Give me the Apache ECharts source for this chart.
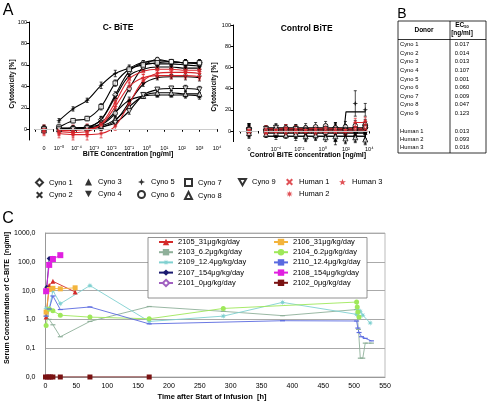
<!DOCTYPE html>
<html><head><meta charset="utf-8">
<script src="https://cdn.jsdelivr.net/npm/echarts@6/dist/echarts.min.js"></script>
<style>html,body{margin:0;padding:0;background:#fff}#c{width:487px;height:403px}</style>
</head><body><div id="c"></div>
<script>
// ---------------- DATA ----------------
// Panel A: concentrations (ng/ml)
const cbiteConc = [1e-5, 6.3e-5, 4e-4, 2.5e-3, 1.6e-2, 0.1, 0.63, 4, 25, 160, 1000];
const ctrlConc  = [1.4e-5, 1e-4, 7e-4, 5e-3, 3.5e-2, 0.25, 1.8, 12.5, 90, 630, 4500];
const donorNames = ['Cyno 1','Cyno 2','Cyno 3','Cyno 4','Cyno 5','Cyno 6','Cyno 7','Cyno 8','Cyno 9','Human 1','Human 2','Human 3'];
// cytotoxicity [%] at zero concentration (C-BiTE)
const cbiteZero = [1, 0, 1, 0, 2, 1, 0, -1, 0, -1, -2, 0];
// cytotoxicity [%] C-BiTE, per donor, at cbiteConc
const cbiteCyno1  = [1, 1, 2, 9, 32, 54, 62, 64, 63, 62, 62];
const cbiteCyno2  = [0, 1, 2, 9, 30, 50, 56, 58, 58, 57, 57];
const cbiteCyno3  = [1, 1, 2, 5, 16, 27, 31, 32, 32, 32, 31];
const cbiteCyno4  = [0, 0, 1, 2, 8, 25, 42, 48, 49, 49, 48];
const cbiteCyno5  = [8, 19, 27, 41, 52, 57, 62, 61, 61, 60, 59];
const cbiteCyno6  = [1, 1, 1, 4, 15, 38, 58, 65, 63, 62, 61];
const cbiteCyno7  = [2, 8, 10, 21, 43, 56, 60, 62, 63, 62, 62];
const cbiteCyno8  = [0, 1, 1, 3, 9, 21, 31, 34, 34, 33, 33];
const cbiteCyno9  = [0, 0, 1, 2, 6, 17, 32, 37, 38, 38, 37];
const cbiteHuman1 = [-2, -3, -2, 5, 25, 47, 54, 56, 56, 55, 55];
const cbiteHuman2 = [-4, -5, -5, -4, 3, 24, 45, 52, 53, 53, 52];
const cbiteHuman3 = [-1, -1, 0, 4, 21, 40, 48, 50, 50, 50, 49];
// typical error-bar half-widths [%] (zero point first, then per concentration)
const cbiteErrCyno  = [2, 2, 2, 2, 3, 3, 3, 2, 2, 2, 3, 3];
const cbiteErrHuman = [4, 4, 5, 5, 4, 4, 4, 3, 3, 3, 3, 3];
// cytotoxicity [%] Control BiTE
const ctrlZero = [2, -1, 0, 1, 3, 2, 0, -2, 1, 0, -1, 1];
const ctrlCyno1  = [1, 0, 2, 1, -1, 1, 2, 3, 1, 2, 3];
const ctrlCyno2  = [-2, -1, 0, -1, -3, -2, 0, -1, -2, -3, -2];
const ctrlCyno3  = [-3, -4, -3, -5, -6, -5, -4, -8, -6, -5, -7];
const ctrlCyno4  = [-1, -2, -1, 0, -2, -1, -3, -4, -2, -1, -3];
const ctrlCyno5  = [2, 1, 3, 2, 1, 2, 3, 4, 3, 26, 20];
const ctrlCyno6  = [1, 2, 3, 2, 3, 4, 5, 3, 4, 5, 6];
const ctrlCyno7  = [0, 1, 0, -1, 1, 0, -1, 0, 1, 2, 4];
const ctrlCyno8  = [-3, -2, -4, -3, -5, -4, -6, -5, -7, -6, -8];
const ctrlCyno9  = [2, 3, 1, 2, 0, 1, 2, 1, 0, 1, 3];
const ctrlHuman1 = [-1, 0, 1, -1, 0, 1, 0, -1, 0, 1, 2];
const ctrlHuman2 = [-2, -1, -2, 0, -1, -2, -1, 0, -1, 8, 9];
const ctrlHuman3 = [2, 1, 3, 2, 1, 2, 3, 2, 1, 4, 6];
const ctrlErrCyno  = [5, 3, 4, 3, 4, 4, 4, 4, 5, 5, 5, 5];
const ctrlErrCyno5 = [4, 3, 3, 3, 3, 3, 3, 3, 3, 3, 12, 6];
const ctrlErrHuman = [3, 3, 3, 3, 3, 3, 3, 3, 3, 3, 4, 4];
// fitted control curves, [conc, %]
const ctrlFitCyno5  = [[1.4e-5, 2], [70, 2], [100, 18], [4500, 18]];
const ctrlFitHuman2 = [[1.4e-5, -1], [350, -1], [600, 8], [4500, 8]];
const ctrlFitLevels = [2, -1, -5, -2, 2, 3, 1, -5, 1, 0, -1, 2];

// Panel B table
const ec50Donors = ['Cyno 1','Cyno 2','Cyno 3','Cyno 4','Cyno 5','Cyno 6','Cyno 7','Cyno 8','Cyno 9','Human 1','Human 2','Human 3'];
const ec50Values = ['0.017','0.014','0.013','0.107','0.001','0.060','0.009','0.047','0.123','0.013','0.093','0.016'];

// Panel C: [time h, serum conc ng/ml]
const s2105 = [[1,1.2],[6,15],[12,21],[48,9]];
const s2103 = [[1,1.3],[6,1.0],[12,0.65],[24,0.25],[72,0.85],[168,2.8],[288,1.9],[384,1.35],[504,2.2],[507,0.45],[510,0.045],[514,0.045],[518,0.15],[528,0.15]];
const s2109 = [[1,2.4],[6,2.3],[12,10],[24,3.5],[72,15],[168,0.85],[288,1.3],[384,3.9],[504,1.5],[506,2.2],[510,1.9],[514,1.4],[526,0.75]];
const s2107 = [[2,13],[6,130],[12,133]];
const s2101 = [[0,0.01],[4,0.01],[8,0.01]];
const s2106 = [[1,1.8],[6,11],[12,12],[24,11.5],[48,12.5]];
const s2104 = [[1,0.62],[6,2.3],[12,2.0],[24,1.4],[72,1.2],[168,1.05],[288,2.4],[504,4.0],[505,2.7],[506,1.8],[508,1.2]];
const s2110 = [[1,1.3],[6,2.3],[12,6.5],[24,2.2],[72,2.7],[168,0.7],[384,0.9],[504,0.88],[506,0.5],[508,0.35],[512,0.25],[518,0.22],[528,0.18]];
const s2108 = [[1,9.5],[6,78],[12,125],[24,170]];
const s2102 = [[0,0.01],[4,0.01],[8,0.01],[12,0.01],[24,0.01],[72,0.01],[168,0.01]];
const cTimeTicks = [0, 550, 50];

// ---------------- STYLE ----------------
const FONT = '"Liberation Sans", Arial, sans-serif';
const RED = '#d8262c';
const P_X = 'path://M2,0L5,3L8,0L10,2L7,5L10,8L8,10L5,7L2,10L0,8L3,5L0,2Z';
const P_STAR4 = 'path://M5,0L6.3,3.7L10,5L6.3,6.3L5,10L3.7,6.3L0,5L3.7,3.7Z';
const P_DOWN = 'path://M0,0L10,0L5,9Z';
const P_AST = 'path://M10,5L6.85,5.77L8.54,8.54L5.77,6.85L5,10L4.23,6.85L1.46,8.54L3.15,5.77L0,5L3.15,4.23L1.46,1.46L4.23,3.15L5,0L5.77,3.15L8.54,1.46L6.85,4.23Z';
const P_STAR5 = 'path://M5,0L6.18,3.38L9.76,3.45L6.9,5.62L7.94,9.05L5,7L2.06,9.05L3.1,5.62L0.24,3.45L3.82,3.38Z';
const donorStyle = {
  'Cyno 1': {sym:'diamond', open:true, c:'#000', s:5.5},
  'Cyno 2': {sym:P_X, c:'#000', s:4.5},
  'Cyno 3': {sym:'triangle', c:'#000', s:4.5},
  'Cyno 4': {sym:P_DOWN, c:'#000', s:4.5},
  'Cyno 5': {sym:P_STAR4, c:'#000', s:5.5},
  'Cyno 6': {sym:'circle', open:true, c:'#000', s:4.5},
  'Cyno 7': {sym:'rect', open:true, c:'#000', s:4.5},
  'Cyno 8': {sym:'triangle', open:true, c:'#000', s:5},
  'Cyno 9': {sym:P_DOWN, open:true, c:'#000', s:5},
  'Human 1': {sym:P_X, c:RED, s:4.5},
  'Human 2': {sym:P_AST, c:RED, s:5.5},
  'Human 3': {sym:P_STAR5, c:RED, s:5.5}
};
function mStyle(st){ return st.open ? {color:'#fff', borderColor:st.c, borderWidth:1} : {color:st.c}; }
const supMap = {'-':'\u207B','0':'\u2070','1':'\u00B9','2':'\u00B2','3':'\u00B3','4':'\u2074','5':'\u2075'};
function pow10Label(v){ const e = Math.round(Math.log10(v)); return '10' + String(e).split('').map(ch=>supMap[ch]).join(''); }

const cbiteVals = [cbiteCyno1,cbiteCyno2,cbiteCyno3,cbiteCyno4,cbiteCyno5,cbiteCyno6,cbiteCyno7,cbiteCyno8,cbiteCyno9,cbiteHuman1,cbiteHuman2,cbiteHuman3];
const ctrlVals = [ctrlCyno1,ctrlCyno2,ctrlCyno3,ctrlCyno4,ctrlCyno5,ctrlCyno6,ctrlCyno7,ctrlCyno8,ctrlCyno9,ctrlHuman1,ctrlHuman2,ctrlHuman3];

// ---------------- AXES ----------------
const axisBlack = {lineStyle:{color:'#000', width:1}};
const tickLbl = {fontSize:5.5, color:'#000', fontFamily:FONT};
function zeroX(grid, off){ return {gridIndex:grid, type:'category', data:['0'], boundaryGap:true, offset:off,
  axisLine:axisBlack, axisTick:{show:true, length:2.5, lineStyle:{color:'#000'}}, axisLabel:Object.assign({margin:3}, tickLbl)}; }
function logX(grid, off, every){ return {gridIndex:grid, type:'log', logBase:10, min:1e-5, max:1e4, splitNumber:9, offset:off,
  axisLine:axisBlack, splitLine:{show:false}, minorTick:{show:false},
  axisTick:{show:true, length:2.5, lineStyle:{color:'#000'}},
  axisLabel:Object.assign({margin:3, interval:0, hideOverlap:false, formatter:v=>{const e=Math.round(Math.log10(v)); return (every===2 && e%2!==0)?'':pow10Label(v);}}, tickLbl)}; }
function pctY(grid, show, off){ return {gridIndex:grid, type:'value', min:-10, max:100, show:show, offset:off,
  axisLine:{show:true, lineStyle:{color:'#000'}}, splitLine:{show:false},
  axisTick:{show:true, length:2.5, lineStyle:{color:'#000'}, customValues:[0,20,40,60,80,100]},
  axisLabel:Object.assign({margin:2, customValues:[0,20,40,60,80,100], formatter:v=>v<0?'':String(v)}, tickLbl)}; }

const xAxes = [zeroX(0,2), logX(1,2,1), zeroX(2,2), logX(3,2,2),
  {gridIndex:4, type:'value', min:cTimeTicks[0], max:cTimeTicks[1], interval:cTimeTicks[2],
   axisLine:{lineStyle:{color:'#999'}}, axisTick:{show:false}, splitLine:{show:false},
   axisLabel:{fontSize:7, color:'#000', margin:6, fontFamily:FONT}}];
const yAxes = [pctY(0,true,6), pctY(1,false,0), pctY(2,true,7), pctY(3,false,0),
  {gridIndex:4, type:'log', logBase:10, min:0.01, max:1000,
   axisLine:{show:true, lineStyle:{color:'#999'}}, axisTick:{show:false}, minorTick:{show:false},
   splitLine:{show:true, lineStyle:{color:'#aaa', width:1}},
   axisLabel:{fontSize:7, color:'#000', margin:10, fontFamily:FONT, formatter:v=>Number(v).toFixed(1).replace('.',',')}}];

const grids = [
  {left:35, top:22, width:18, height:118},
  {left:59, top:22, width:158, height:118},
  {left:240, top:25, width:18, height:116.6},
  {left:264.3, top:25, width:105, height:116.6},
  {left:45.5, top:233, width:339.5, height:144, show:true, borderColor:'#bbb', borderWidth:1}
];

// ---------------- SERIES ----------------
const series = [];
const zeroLine = {silent:true, symbol:'none', label:{show:false}, lineStyle:{color:'#ccc', type:'solid', width:1}, data:[{yAxis:0}]};
function errSeries(xi, yi, rows, color){
  return {type:'custom', xAxisIndex:xi, yAxisIndex:yi, silent:true, z:2, data:rows, encode:{x:0, y:[1,2]},
    renderItem:(params, api)=>{
      const a = api.coord([api.value(0), api.value(1)]);
      const b = api.coord([api.value(0), api.value(2)]);
      const st = {stroke:color, lineWidth:0.7};
      return {type:'group', children:[
        {type:'line', shape:{x1:a[0], y1:a[1], x2:b[0], y2:b[1]}, style:st},
        {type:'line', shape:{x1:a[0]-1.5, y1:a[1], x2:a[0]+1.5, y2:a[1]}, style:st},
        {type:'line', shape:{x1:b[0]-1.5, y1:b[1], x2:b[0]+1.5, y2:b[1]}, style:st}
      ]};
    }};
}
donorNames.forEach((n,i)=>{
  const st = donorStyle[n];
  const lineCol = st.c;
  const isHuman = n.indexOf('Human')===0;
  // C-BiTE fitted curve
  series.push({type:'line', name:n+' fit', xAxisIndex:1, yAxisIndex:1, data:cbiteConc.map((c,k)=>[c, cbiteVals[i][k]]),
    smooth:0.35, showSymbol:false, silent:true, lineStyle:{color:lineCol, width:1.1}, z:2});
  // Control curve
  let ctrlFit = [[ctrlConc[0], ctrlFitLevels[i]], [ctrlConc[ctrlConc.length-1], ctrlFitLevels[i]]];
  if (n==='Cyno 5') ctrlFit = ctrlFitCyno5;
  if (n==='Human 2') ctrlFit = ctrlFitHuman2;
  series.push({type:'line', name:n+' ctrl fit', xAxisIndex:3, yAxisIndex:3, data:ctrlFit,
    showSymbol:false, silent:true, lineStyle:{color:lineCol, width:1.1}, z:2});
  // error bars
  const eC = isHuman ? cbiteErrHuman : cbiteErrCyno;
  const eK = isHuman ? ctrlErrHuman : (n==='Cyno 5' ? ctrlErrCyno5 : ctrlErrCyno);
  series.push(errSeries(1,1, cbiteConc.map((c,k)=>[c, cbiteVals[i][k]-eC[k+1], cbiteVals[i][k]+eC[k+1]]), lineCol));
  series.push(errSeries(0,0, [[0, cbiteZero[i]-eC[0], cbiteZero[i]+eC[0]]], lineCol));
  series.push(errSeries(3,3, ctrlConc.map((c,k)=>[c, ctrlVals[i][k]-eK[k+1], ctrlVals[i][k]+eK[k+1]]), lineCol));
  series.push(errSeries(2,2, [[0, ctrlZero[i]-eK[0], ctrlZero[i]+eK[0]]], lineCol));
});
donorNames.forEach((n,i)=>{
  const st = donorStyle[n];
  const base = {type:'scatter', name:n, symbol:st.sym, symbolSize:st.s, itemStyle:mStyle(st), z:3};
  series.push(Object.assign({}, base, {xAxisIndex:1, yAxisIndex:1, data:cbiteConc.map((c,k)=>[c, cbiteVals[i][k]]),
    markLine: i===0 ? zeroLine : undefined}));
  series.push(Object.assign({}, base, {xAxisIndex:0, yAxisIndex:0, data:[[0, cbiteZero[i]]], markLine: i===0 ? zeroLine : undefined}));
  series.push(Object.assign({}, base, {xAxisIndex:3, yAxisIndex:3, data:ctrlConc.map((c,k)=>[c, ctrlVals[i][k]]), markLine: i===0 ? zeroLine : undefined}));
  series.push(Object.assign({}, base, {xAxisIndex:2, yAxisIndex:2, data:[[0, ctrlZero[i]]], markLine: i===0 ? zeroLine : undefined}));
});

const cDefs = [
  ['2105_31\u03BCg/kg/day', s2105, '#d42a2a', 'triangle', 5, false],
  ['2103_6.2\u03BCg/kg/day', s2103, '#8fb09a', 'rect', [5,1.2], false],
  ['2109_12.4\u03BCg/kg/day', s2109, '#7fd0d0', P_AST, 6, false],
  ['2107_154\u03BCg/kg/day', s2107, '#1a1a70', 'diamond', 5, false],
  ['2101_0\u03BCg/kg/day', s2101, '#a060c0', 'diamond', 5, true],
  ['2106_31\u03BCg/kg/day', s2106, '#f3b43c', 'rect', 5, false],
  ['2104_6.2\u03BCg/kg/day', s2104, '#9ee85a', 'circle', 5, false],
  ['2110_12.4\u03BCg/kg/day', s2110, '#5a6ae0', 'rect', [5,1.2], false],
  ['2108_154\u03BCg/kg/day', s2108, '#e020e0', 'rect', 6, false],
  ['2102_0\u03BCg/kg/day', s2102, '#7a1212', 'rect', 5, false]
];
cDefs.forEach(d=>{
  series.push({type:'line', name:d[0], xAxisIndex:4, yAxisIndex:4, data:d[1], symbol:d[3], symbolSize:d[4], showAllSymbol:true,
    lineStyle:{color:d[2], width:0.9}, itemStyle: d[5] ? {color:'#fff', borderColor:d[2], borderWidth:1} : {color:d[2]}, z:3});
});

// ---------------- LEGENDS ----------------
const legA = [[35,['Cyno 1','Cyno 2']],[85,['Cyno 3','Cyno 4']],[137,['Cyno 5','Cyno 6']],[184,['Cyno 7','Cyno 8']],[238,['Cyno 9']],[286,['Human 1','Human 2']],[339,['Human 3']]];
const legends = legA.map(l=>({orient:'vertical', left:l[0], top:178, itemWidth:7, itemHeight:7, itemGap:4, padding:0, selectedMode:false,
  textStyle:{fontSize:7.5, color:'#000', fontFamily:FONT, padding:[0,0,0,1]}, data:l[1]}));
[[158, cDefs.slice(0,5)], [273, cDefs.slice(5)]].forEach(l=>{
  legends.push({orient:'vertical', left:l[0], top:238, itemWidth:14, itemHeight:8, itemGap:2.2, padding:0, selectedMode:false, z:10,
    textStyle:{fontSize:7.5, color:'#000', fontFamily:FONT}, data:l[1].map(d=>d[0])});
});

// ---------------- GRAPHICS (titles, table) ----------------
function txt(x, y, text, size, bold, align, rot){
  const o = {type:'text', x:x, y:y, z:20, style:{text:text, fontSize:size, fontWeight:bold?'bold':'normal', fontFamily:FONT, fill:'#000', align:align||'center', verticalAlign:'middle'}};
  if (rot) o.rotation = rot;
  return o;
}
const g = [];
g.push(txt(8,11,'A',16));
g.push(txt(402,14.5,'B',14));
g.push(txt(8,219,'C',16));
g.push(txt(118,28,'C- BiTE',8.5,true));
g.push(txt(306.7,29,'Control BiTE',8.5,true));
g.push(txt(128,154.5,'BiTE Concentration [ng/ml]',7,true));
g.push(txt(308,155,'Control BiTE concentration [ng/ml]',7,true));
g.push(txt(12,84,'Cytotoxicity [%]',6.5,true,'center',Math.PI/2));
g.push(txt(214,87,'Cytotoxicity [%]',6.5,true,'center',Math.PI/2));
g.push(txt(212,397,'Time after Start of Infusion  [h]',7.5,true));
g.push(txt(7,298,'Serum Concentration of C-BiTE  [ng/ml]',7,true,'center',Math.PI/2));
// legend box C
g.push({type:'rect', shape:{x:148, y:237.5, width:219, height:60.5}, z:5, style:{fill:'#fff', stroke:'#777', lineWidth:0.8}});
// table B
g.push({type:'rect', shape:{x:398, y:21, width:88, height:132}, z:20, style:{fill:'none', stroke:'#000', lineWidth:0.8}});
g.push({type:'line', shape:{x1:398, y1:39.5, x2:486, y2:39.5}, z:20, style:{stroke:'#000', lineWidth:0.8}});
g.push({type:'line', shape:{x1:450, y1:21, x2:450, y2:153}, z:20, style:{stroke:'#000', lineWidth:0.8}});
g.push(txt(424,30,'Donor',6.5,true));
g.push({type:'text', x:462, y:25.5, z:20, style:{text:'{a|EC}{b|50}', fontFamily:FONT, fill:'#000', align:'center', verticalAlign:'middle',
  rich:{a:{fontSize:6.5, fontWeight:'bold', fontFamily:FONT}, b:{fontSize:4, fontWeight:'bold', fontFamily:FONT, padding:[3,0,0,0]}}}});
g.push(txt(462,33.5,'[ng/ml]',6.5,true));
ec50Donors.forEach((n,i)=>{
  const y = i<9 ? 44.5 + i*8.6 : [131.5,139.5,147][i-9];
  g.push(txt(400,y,n,5.8,false,'left'));
  g.push(txt(462,y,ec50Values[i],5.8,false));
});

const chart = echarts.init(document.getElementById('c'), null, {renderer:'canvas'});
chart.setOption({
  animation:false,
  backgroundColor:'#fff',
  textStyle:{fontFamily:FONT},
  grid:grids, xAxis:xAxes, yAxis:yAxes, series:series, legend:legends, graphic:g
});
</script></body></html>
